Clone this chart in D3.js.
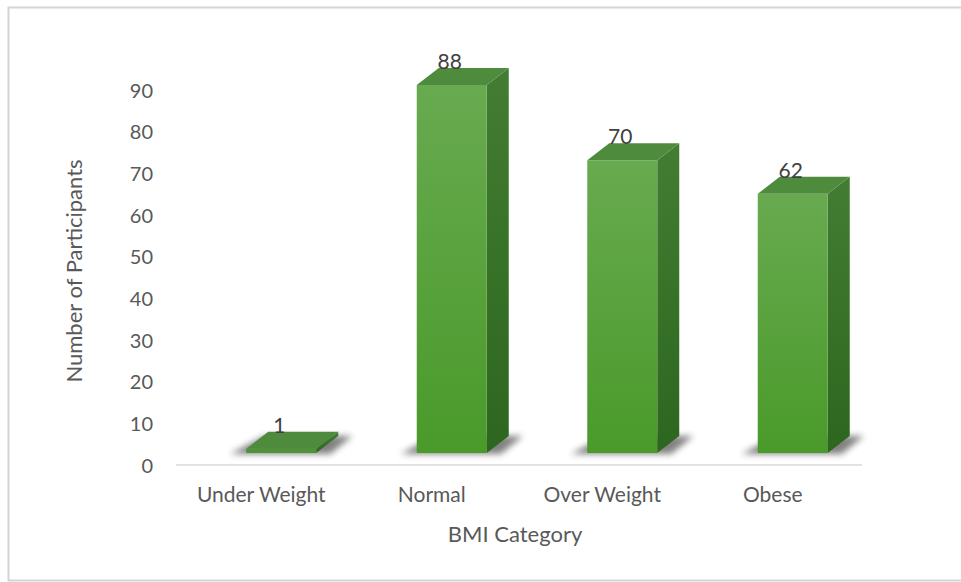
<!DOCTYPE html>
<html>
<head>
<meta charset="utf-8">
<script src="https://cdn.jsdelivr.net/npm/d3@7"></script>
<style>
  body { margin: 0; background: #fff; }
  svg { display: block; }
  svg text { font-family: Lato, "Open Sans", sans-serif; }
</style>
</head>
<body>
<script>
// DATA
let categories = ["Under Weight", "Normal", "Over Weight", "Obese"];
let counts = [1, 88, 70, 62];
let yTicks = [0, 10, 20, 30, 40, 50, 60, 70, 80, 90];

let width = 961;
let height = 582;

let svg = d3.select("body").append("svg")
    .attr("width", width)
    .attr("height", height);

// chart frame
svg.append("rect")
    .attr("x", 8.5).attr("y", 7.5)
    .attr("width", 960).attr("height", 573)
    .attr("fill", "#fff")
    .attr("stroke", "#d4d4d4")
    .attr("stroke-width", 2);

let defs = svg.append("defs");

let frontGrad = defs.append("linearGradient").attr("id", "front")
    .attr("x1", 0).attr("y1", 0).attr("x2", 0).attr("y2", 1);
frontGrad.append("stop").attr("offset", "0%").attr("stop-color", "#68aa50");
frontGrad.append("stop").attr("offset", "100%").attr("stop-color", "#4a9a2a");

let sideGrad = defs.append("linearGradient").attr("id", "side")
    .attr("x1", 0).attr("y1", 0).attr("x2", 0).attr("y2", 1);
sideGrad.append("stop").attr("offset", "0%").attr("stop-color", "#427d33");
sideGrad.append("stop").attr("offset", "100%").attr("stop-color", "#2d671f");

defs.append("filter").attr("id", "blur")
    .attr("x", "-50%").attr("y", "-50%").attr("width", "200%").attr("height", "200%")
    .append("feGaussianBlur").attr("stdDeviation", 3);

// scales
let x_scale = d3.scaleBand()
    .domain(categories)
    .range([176, 858])
    .paddingInner(0)
    .paddingOuter(0);

let axisY = 465;
let y_scale = d3.scaleLinear()
    .domain([0, 90])
    .range([axisY, 90]);

// bars sit on a floor slightly in front of the axis line
let barBase = 453;
let bar_scale = d3.scaleLinear()
    .domain([0, 88])
    .range([barBase, 85]);

let barW = 70;
let dx = 22, dy = -17;
let shift = 20; // front face is pushed right of the category centre

// y axis labels
let y_axis = d3.axisLeft(y_scale)
    .tickValues(yTicks)
    .tickSize(0)
    .tickPadding(0);

let yg = svg.append("g")
    .attr("class", "y axis")
    .attr("transform", "translate(153,0)")
    .call(y_axis)
    .attr("font-family", null)
    .attr("font-size", null);
yg.select(".domain").remove();
yg.selectAll("text")
    .attr("fill", "#595959")
    .style("font-size", "20px")
    .attr("dy", "0.36em");

// x axis line
svg.append("line")
    .attr("x1", 176).attr("x2", 862)
    .attr("y1", axisY).attr("y2", axisY)
    .attr("stroke", "#d9d9d9")
    .attr("stroke-width", 1.5);

let x_axis = d3.axisBottom(x_scale).tickSize(0).tickPadding(0);
let xg = svg.append("g")
    .attr("class", "x axis")
    .attr("transform", "translate(0," + (axisY + 37) + ")")
    .call(x_axis)
    .attr("font-family", null)
    .attr("font-size", null);
xg.select(".domain").remove();
xg.selectAll("text")
    .attr("fill", "#595959")
    .attr("dy", "0")
    .style("font-size", "21px");

let bars = svg.selectAll("g.bar")
    .data(categories.map((c, i) => ({ cat: c, val: counts[i] })))
    .join("g")
    .attr("class", "bar");

// shadow on the floor
bars.append("path")
    .attr("d", d => {
        let x0 = x_scale(d.cat) + x_scale.bandwidth() / 2 + shift - barW / 2;
        return "M" + (x0 - 16) + "," + (barBase + 1) +
            "L" + (x0 + barW + 14) + "," + (barBase + 1) +
            "L" + (x0 + barW + dx + 14) + "," + (barBase - 17) +
            "L" + (x0 + dx - 4) + "," + (barBase - 17) + "Z";
    })
    .attr("fill", "#2e2e2e")
    .attr("opacity", 0.6)
    .attr("filter", "url(#blur)");

// side face
bars.append("path")
    .attr("d", d => {
        let x1 = x_scale(d.cat) + x_scale.bandwidth() / 2 + shift + barW / 2;
        let yt = bar_scale(d.val);
        return "M" + x1 + "," + yt + "L" + (x1 + dx) + "," + (yt + dy) +
            "L" + (x1 + dx) + "," + (barBase + dy) + "L" + x1 + "," + barBase + "Z";
    })
    .attr("fill", "url(#side)");

// front face
bars.append("rect")
    .attr("x", d => x_scale(d.cat) + x_scale.bandwidth() / 2 + shift - barW / 2)
    .attr("y", d => bar_scale(d.val))
    .attr("width", barW)
    .attr("height", d => barBase - bar_scale(d.val))
    .attr("fill", d => d.val < 5 ? "#4e9436" : "url(#front)");

// top face
bars.append("path")
    .attr("d", d => {
        let x0 = x_scale(d.cat) + x_scale.bandwidth() / 2 + shift - barW / 2;
        let yt = bar_scale(d.val);
        return "M" + x0 + "," + yt + "L" + (x0 + barW) + "," + yt +
            "L" + (x0 + barW + dx) + "," + (yt + dy) + "L" + (x0 + dx) + "," + (yt + dy) + "Z";
    })
    .attr("fill", "#4f8b3c");

// data labels
bars.append("text")
    .attr("x", d => x_scale(d.cat) + x_scale.bandwidth() / 2 + shift - 2)
    .attr("y", d => bar_scale(d.val) + dy + 1)
    .attr("text-anchor", "middle")
    .attr("fill", "#404040")
    .style("font-size", "21px")
    .text(d => d.val);

// axis titles
svg.append("text")
    .attr("x", 515).attr("y", 542)
    .attr("text-anchor", "middle")
    .attr("fill", "#595959")
    .style("font-size", "22px")
    .text("BMI Category");

svg.append("text")
    .attr("transform", "translate(82,271) rotate(-90)")
    .attr("text-anchor", "middle")
    .attr("fill", "#595959")
    .style("font-size", "22px")
    .text("Number of Participants");
</script>
</body>
</html>
